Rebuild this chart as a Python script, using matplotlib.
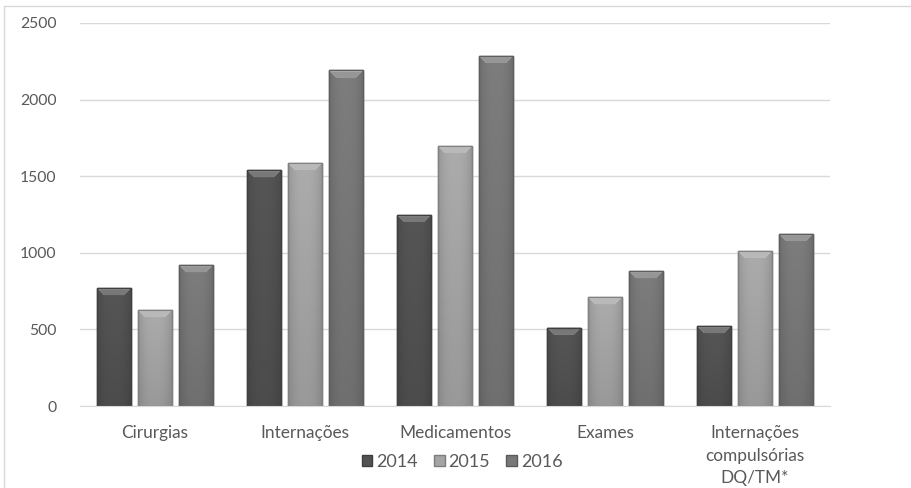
import matplotlib
matplotlib.use("Agg")
import matplotlib.pyplot as plt
import numpy as np
from matplotlib.patches import Polygon, Rectangle, Patch
import matplotlib.colors as mcolors

categories = ["Cirurgias", "Internações", "Medicamentos", "Exames",
              "Internações\ncompulsórias\nDQ/TM*"]
years = ["2014", "2015", "2016"]
v2014 = [770, 1540, 1247, 512, 522]
v2015 = [627, 1586, 1697, 711, 1012]
v2016 = [920, 2190, 2285, 881, 1123]
series = [v2014, v2015, v2016]
colors = ["#525252", "#a5a5a5", "#787878"]

plt.rcParams["font.family"] = ["Lato", "DejaVu Sans"]
W, H = 912, 488
fig = plt.figure(figsize=(W / 100, H / 100), dpi=100)
ax_l, ax_r, ax_t, ax_b = 80, 830, 23, 406
ax = fig.add_axes([ax_l / W, 1 - ax_b / H, (ax_r - ax_l) / W, (ax_b - ax_t) / H])

ymax = 2500
ax.set_xlim(-0.5, len(categories) - 0.5)
ax.set_ylim(0, ymax)
ax.set_yticks(np.arange(0, 2501, 500))
ax.grid(axis="y", color="#d9d9d9", linewidth=1)
ax.set_axisbelow(True)
for s in ["left", "right", "top"]:
    ax.spines[s].set_visible(False)
ax.spines["bottom"].set_color("#d9d9d9")
ax.tick_params(axis="both", length=0, colors="#595959")
ax.tick_params(axis="y", pad=17, labelsize=11.3)
ax.tick_params(axis="x", pad=14, labelsize=12.4)
ax.set_xticks(range(len(categories)))
ax.set_xticklabels(categories, linespacing=1.5)

px_x = (ax_r - ax_l) / len(categories)   # pixels per x data unit
px_y = (ax_b - ax_t) / ymax               # pixels per y data unit

step = 41 / px_x
width = 34 / px_x
x = np.arange(len(categories))


def shade(c, f):
    r = np.array(mcolors.to_rgb(c))
    if f >= 1:
        return tuple(r + (1 - r) * (f - 1))
    return tuple(r * f)


for i, (vals, col) in enumerate(zip(series, colors)):
    bars = ax.bar(x + (i - 1) * step, vals, width, color=col,
                  edgecolor=shade(col, 0.8), linewidth=1, zorder=2,
                  label=years[i])
    for b in bars:
        bx, bw, bh = b.get_x(), b.get_width(), b.get_height()
        # horizontal + vertical shading inside the bar
        nx, ny = 40, 40
        gx = np.linspace(-1, 1, nx)
        hx = 1.0 - 0.12 * np.abs(gx) ** 2.5
        hy = np.linspace(0.93, 1.04, ny)[:, None]
        base = np.array(mcolors.to_rgb(col))
        img = np.clip(base[None, None, :] * (hx[None, :, None] * hy[:, :, None]), 0, 1)
        im = ax.imshow(img, extent=[bx, bx + bw, 0, bh], origin="lower",
                       aspect="auto", zorder=2.1, interpolation="bilinear")
        im.set_clip_path(b)
        # bevelled top
        bev_h = 7 / px_y
        ins = 7 / px_x
        top = Polygon([(bx, bh), (bx + bw, bh), (bx + bw - ins, bh - bev_h),
                       (bx + ins, bh - bev_h)], closed=True,
                      facecolor=shade(col, 1.5), edgecolor="none", zorder=2.2)
        ax.add_patch(top)
        mid = Polygon([(bx + 2 / px_x, bh - 1.5 / px_y), (bx + bw - 2 / px_x, bh - 1.5 / px_y),
                       (bx + bw - ins, bh - bev_h), (bx + ins, bh - bev_h)], closed=True,
                      facecolor=shade(col, 1.22), edgecolor="none", zorder=2.3)
        ax.add_patch(mid)
        ax.add_patch(Rectangle((bx, 0), bw, bh, fill=False,
                               edgecolor=shade(col, 0.78), linewidth=1, zorder=2.4))
ax.set_xlim(-0.5, len(categories) - 0.5)
ax.set_ylim(0, ymax)

handles = [Patch(facecolor=c, edgecolor=shade(c, 0.75), label=y)
           for c, y in zip(colors, years)]
leg = fig.legend(handles=handles, loc="center", bbox_to_anchor=(462 / W, 1 - 462 / H),
                 ncol=3, frameon=False, fontsize=13, handlelength=0.6,
                 handleheight=0.6, handletextpad=0.2, columnspacing=0.9)
for t in leg.get_texts():
    t.set_color("#595959")

fig.patches.append(Rectangle((4.5 / W, -0.2), 1.5, 1.2 - 5.5 / H, fill=False,
                             edgecolor="#d9d9d9", linewidth=1,
                             transform=fig.transFigure, figure=fig))

fig.savefig("out.png", dpi=100, facecolor="white")
